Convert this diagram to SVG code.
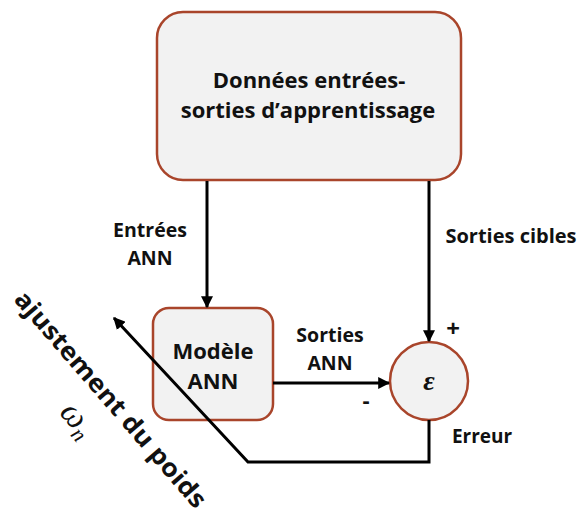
<svg xmlns="http://www.w3.org/2000/svg" width="580" height="517" viewBox="0 0 580 517">
<defs>
<style>
.node{fill:#f2f2f2;stroke:#a9452b;stroke-width:2.5}
.lbl{font-family:"Open Sans","Liberation Sans",sans-serif;font-weight:700;fill:#111;text-anchor:middle}
.conn{fill:none;stroke:#000;stroke-width:3}
</style>
<marker id="ah" viewBox="0 0 10 10" refX="9" refY="5" markerWidth="4" markerHeight="4" orient="auto" markerUnits="strokeWidth">
<path d="M0,0 L10,5 L0,10 z" fill="#000"/>
</marker>
</defs>
<rect width="580" height="517" fill="#fff"/>
<g id="donnees">
<rect class="node" x="157" y="12" width="304" height="168" rx="26"/>
<text class="lbl" font-size="22" x="309" y="88">Données entrées-</text>
<text class="lbl" font-size="22" x="308" y="118">sorties d’apprentissage</text>
</g>
<g id="modele">
<rect class="node" x="153" y="308" width="120" height="112" rx="16"/>
<text class="lbl" font-size="22" x="213" y="359">Modèle</text>
<text class="lbl" font-size="22" x="213" y="389">ANN</text>
</g>
<g id="erreur">
<circle class="node" cx="429" cy="381" r="39"/>
<text x="429" y="390" font-family="'Liberation Serif',serif" font-style="italic" font-weight="700" font-size="28" text-anchor="middle" fill="#111">ε</text>
</g>
<g id="connectors">
<line class="conn" x1="207" y1="181" x2="207" y2="307" marker-end="url(#ah)"/>
<line class="conn" x1="429" y1="181" x2="429" y2="341" marker-end="url(#ah)"/>
<line class="conn" x1="273" y1="383" x2="389" y2="383" marker-end="url(#ah)"/>
<polyline class="conn" points="429,420 429,462 248,462 114,318" marker-end="url(#ah)"/>
</g>
<g id="labels">
<text class="lbl" font-size="19.5" x="150" y="237">Entrées</text>
<text class="lbl" font-size="19.5" x="150" y="265">ANN</text>
<text class="lbl" font-size="20" x="511" y="243">Sorties cibles</text>
<text class="lbl" font-size="19.5" x="330" y="342">Sorties</text>
<text class="lbl" font-size="19.5" x="330" y="370">ANN</text>
<text class="lbl" font-size="22" x="366" y="408">-</text>
<text class="lbl" font-size="24" x="453" y="337">+</text>
<text class="lbl" font-size="19" x="482" y="443">Erreur</text>
<text class="lbl" font-size="25" font-weight="600" transform="translate(111,399) rotate(49)" x="0" y="9" textLength="278" lengthAdjust="spacingAndGlyphs">ajustement du poids</text>
<text transform="translate(76,421) rotate(49)" x="0" y="8" font-family="'Liberation Serif',serif" font-style="italic" font-size="34" text-anchor="middle" fill="#111">ω<tspan font-size="22" dy="6">n</tspan></text>
</g>
</svg>
